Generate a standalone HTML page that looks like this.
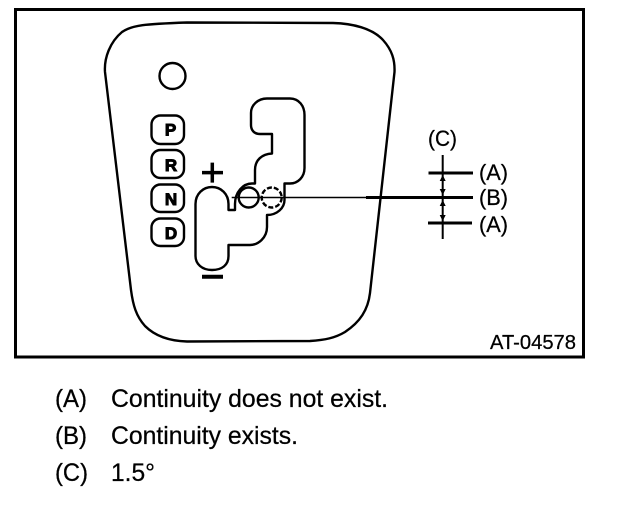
<!DOCTYPE html>
<html><head><meta charset="utf-8">
<style>html,body{margin:0;padding:0;background:#fff}svg{display:block}
text{font-family:"Liberation Sans",sans-serif;fill:#000}</style></head>
<body>
<svg width="640" height="506" viewBox="0 0 640 506" xmlns="http://www.w3.org/2000/svg">
<rect x="15.5" y="9.5" width="568" height="347.5" fill="none" stroke="#000" stroke-width="3"/>
<g fill="none" stroke="#000" stroke-linejoin="round">
<path stroke-width="2.400" d="M187 22.500 L333 23 C352 23.500 372 28 383 40 C392 50 395 60 394.500 72 L370 293 C368 310 360 322 345 332 C335 338 325 340 310 341 L187 341.500 C170 341 155 336 145 326 C136 316 133 305 131 290 L105 72 C104 58 110 42 122 32 C132 25 145 24 187 22.500 Z"/>
<circle cx="172.500" cy="76" r="13" stroke-width="2.400"/>
<path stroke-width="2.400" d="M267 98.500 H290 C299 98.500 304.500 106 304.500 115 V168 C304.500 177 298 183.500 290 183.500 H284.500 V200 C284.500 208 277 215 267 215 V227 C267 238 258 245 250 245 H228.500 V256 C228.500 265 222 270 212 270 C202 270 195.500 264 195.500 256 V204 C195.500 194 203 187 212 187 C221 187 228.500 194 228.500 204 V210 H235 V204 C235 192 243 183.500 252 183.500 H255 V170 C255 160 262 154 272 153.500 V134 H260 C254 134 251 130 251 125 V113 C251 105 258 98.500 267 98.500 Z"/>
<circle cx="248.700" cy="197.500" r="10" stroke-width="2.400"/>
<circle cx="271.700" cy="197.500" r="10" stroke-width="2.400" stroke-dasharray="5 2"/>
<path stroke-width="1.600" d="M231.700 197.500 H366"/>
<path stroke-width="3" d="M366 197.500 H473 M428.500 173 H473 M428 223 H472"/>
<path stroke-width="2" d="M442.700 155 V239"/>
<g stroke-width="2.400">
<rect x="151.500" y="115.500" width="32.500" height="28.500" rx="9"/>
<rect x="151.500" y="150" width="32.500" height="28" rx="9"/>
<rect x="151.500" y="184.500" width="32.500" height="27.500" rx="9"/>
<rect x="151.500" y="218.500" width="32.500" height="27.500" rx="9"/>
</g>
<path stroke-width="3.500" d="M202 172.600 H223 M212.300 162.600 V182.600"/>
<path stroke-width="4" d="M202 276.700 H223"/>
</g>
<path d="M442.700 175 l-3 6 h6 Z M442.700 195 l-3 -6 h6 Z M442.700 200 l-3 6 h6 Z M442.700 221 l-3 -6 h6 Z" fill="#000"/>
<g font-weight="700" font-size="17" text-anchor="middle" stroke="#000" stroke-width="1">
<text x="170.500" y="135.500" style="stroke:#000">P</text>
<text x="171" y="171" style="stroke:#000">R</text>
<text x="171" y="205" style="stroke:#000">N</text>
<text x="171" y="239" style="stroke:#000">D</text>
</g>
<g font-size="22" stroke="#000" stroke-width=".25">
<text x="428" y="146" textLength="29" lengthAdjust="spacingAndGlyphs" style="stroke:#000">(C)</text>
<text x="479" y="180" textLength="29" lengthAdjust="spacingAndGlyphs" style="stroke:#000">(A)</text>
<text x="479" y="205" textLength="29" lengthAdjust="spacingAndGlyphs" style="stroke:#000">(B)</text>
<text x="479" y="232" textLength="29" lengthAdjust="spacingAndGlyphs" style="stroke:#000">(A)</text>
<text x="490" y="349" font-size="20" textLength="86" lengthAdjust="spacingAndGlyphs" style="stroke:#000">AT-04578</text>
</g>
<g font-size="25" stroke="#000" stroke-width=".25">
<text x="55" y="407" textLength="32" lengthAdjust="spacingAndGlyphs" style="stroke:#000">(A)</text>
<text x="111" y="407" textLength="277" lengthAdjust="spacingAndGlyphs" style="stroke:#000">Continuity does not exist.</text>
<text x="55" y="444" textLength="32" lengthAdjust="spacingAndGlyphs" style="stroke:#000">(B)</text>
<text x="111" y="444" textLength="187" lengthAdjust="spacingAndGlyphs" style="stroke:#000">Continuity exists.</text>
<text x="55" y="481" textLength="33" lengthAdjust="spacingAndGlyphs" style="stroke:#000">(C)</text>
<text x="111" y="481" textLength="44" lengthAdjust="spacingAndGlyphs" style="stroke:#000">1.5°</text>
</g>
</svg>
</body></html>
